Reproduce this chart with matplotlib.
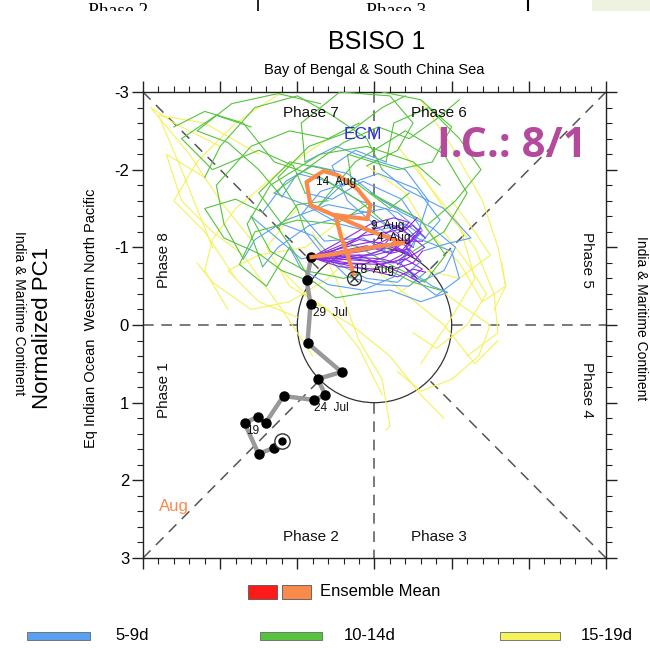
import matplotlib
matplotlib.use("Agg")
import matplotlib.pyplot as plt
from matplotlib.patches import Circle, Rectangle
import numpy as np

plt.rcParams['font.family'] = ['Liberation Sans', 'DejaVu Sans']

# ---------------- data (PC2 on x, PC1 on y) ----------------
obs_x = [-1.205, -1.308, -1.503, -1.684, -1.516, -1.412, -1.179, -0.790, -0.635, -0.738, -0.427, -0.868, -0.829, -0.881, -0.82]
obs_y = [1.493, 1.583, 1.660, 1.261, 1.184, 1.261, 0.914, 0.965, 0.901, 0.695, 0.605, 0.232, -0.270, -0.579, -0.87]
obs_labels = ["19", "24  Jul", "29  Jul"]
obs_label_xy = [(-1.66, 1.37), (-0.79, 1.07), (-0.80, -0.16)]

ens_x = [-0.816, -0.518, -0.233, 0.078, 0.376, -0.052, -0.440, -0.829, -0.881, -0.661, -0.479, -0.220,
         -0.052, -0.091, -0.311, -0.505, -0.440, -0.350, -0.272]
ens_y = [-0.875, -0.914, -0.965, -1.017, -1.055, -1.210, -1.377, -1.544, -1.840, -1.982, -1.931, -1.750,
         -1.544, -1.364, -1.390, -1.416, -1.158, -0.901, -0.656]
ens_labels = ["4  Aug", "9  Aug", "14  Aug", "18  Aug"]
ens_label_xy = [(0.035, -1.116), (-0.05, -1.274), (-0.764, -1.845), (-0.27, -0.708)]

IC = (-0.82, -0.87)
# member tracks by lead time (0-4d purple, 5-9d blue, 10-14d green, 15-19d yellow)
purple_tracks = [
    [IC, (-0.5, -0.92), (-0.1, -0.98), (0.2, -1.12), (0.45, -1.05), (0.6, -1.2)],
    [IC, (-0.45, -0.85), (-0.05, -0.82), (0.25, -0.72), (0.5, -0.8), (0.62, -0.95)],
    [IC, (-0.4, -1.0), (-0.1, -1.2), (0.2, -1.3), (0.4, -1.22), (0.55, -1.38)],
    [IC, (-0.4, -0.78), (-0.05, -0.7), (0.3, -0.62), (0.5, -0.72), (0.66, -0.68)],
    [IC, (-0.55, -0.95), (-0.2, -1.1), (0.1, -1.05), (0.35, -0.95), (0.52, -1.15)],
    [IC, (-0.45, -0.9), (0.0, -0.9), (0.3, -0.98), (0.5, -0.88), (0.4, -1.02)],
    [IC, (-0.5, -0.8), (-0.15, -0.78), (0.15, -0.88), (0.35, -1.08), (0.62, -1.08)],
    [IC, (-0.4, -1.1), (-0.05, -1.3), (0.25, -1.38), (0.45, -1.32), (0.3, -1.18)],
    [IC, (-0.35, -0.88), (0.1, -0.85), (0.35, -0.78), (0.55, -0.6), (0.42, -0.72)],
    [IC, (-0.5, -0.9), (-0.15, -0.95), (0.1, -1.0), (0.25, -1.18), (0.48, -1.02)],
    [IC, (-0.45, -0.75), (0.0, -0.72), (0.35, -0.9), (0.6, -1.25), (0.2, -0.92)],
    [IC, (-0.4, -1.0), (0.0, -1.08), (0.3, -1.28), (0.65, -1.0), (0.3, -0.78)],
    [IC, (-0.5, -0.85), (-0.2, -0.9), (0.15, -0.75), (0.4, -0.65), (0.58, -0.55)],
    [IC, (-0.45, -0.95), (-0.1, -1.02), (0.2, -0.92), (0.45, -0.98), (0.6, -0.82)],
    [IC, (-0.6, -0.82), (-0.25, -0.86), (0.05, -0.95), (0.3, -1.1), (0.5, -1.0)],
    [IC, (-0.35, -0.8), (0.05, -0.78), (0.4, -0.85), (0.62, -0.72), (0.48, -0.62)],
    [IC, (-0.5, -1.0), (-0.15, -1.15), (0.2, -1.2), (0.5, -1.28), (0.66, -1.12)],
    [IC, (-0.45, -0.88), (-0.1, -0.83), (0.25, -0.8), (0.45, -0.92), (0.25, -1.02)],
]
blue_tracks = [
    [(0.6, -1.2), (0.3, -1.45), (-0.2, -1.6), (-0.6, -1.85), (-1.0, -1.95), (-1.2, -1.65)],
    [(0.62, -0.95), (0.95, -1.05), (1.25, -1.12), (0.9, -1.5), (0.4, -1.75), (0.1, -2.0)],
    [(0.55, -1.38), (0.1, -1.6), (-0.35, -1.95), (-0.8, -2.05), (-1.15, -1.85), (-1.45, -1.45)],
    [(0.66, -0.68), (0.45, -0.5), (0.05, -0.52), (-0.35, -0.62), (-0.7, -0.95), (-0.9, -1.2)],
    [(0.52, -1.15), (0.15, -1.5), (-0.3, -1.42), (-0.85, -1.28), (-1.25, -1.0), (-1.45, -0.75)],
    [(0.4, -1.02), (0.05, -1.25), (-0.35, -1.6), (-0.55, -2.05), (-0.25, -2.25), (0.15, -2.1)],
    [(0.62, -1.08), (0.85, -1.35), (0.55, -1.75), (0.05, -1.95), (-0.45, -1.78), (-0.75, -1.5)],
    [(0.3, -1.18), (-0.1, -1.45), (-0.6, -1.55), (-1.15, -1.35), (-1.55, -1.1), (-1.7, -0.85)],
    [(0.42, -0.72), (0.75, -0.5), (0.95, -0.42), (0.6, -0.3), (0.2, -0.45), (-0.2, -0.4)],
    [(0.48, -1.02), (0.25, -0.62), (-0.15, -0.45), (-0.6, -0.52), (-0.95, -0.72), (-1.1, -1.0)],
    [(0.2, -0.92), (-0.15, -1.12), (-0.65, -1.08), (-0.95, -1.42), (-0.7, -1.72), (-0.3, -1.85)],
    [(0.3, -0.78), (0.62, -1.22), (0.35, -1.62), (-0.15, -1.85), (-0.55, -1.62), (-0.9, -1.7)],
    [(0.58, -0.55), (0.9, -0.7), (1.05, -1.0), (0.75, -1.25), (0.35, -1.45), (-0.05, -1.7)],
    [(0.6, -0.82), (0.3, -0.55), (-0.1, -0.6), (-0.5, -0.8), (-0.8, -1.15), (-1.2, -1.3)],
    [(0.5, -1.0), (0.7, -1.6), (0.4, -2.0), (-0.1, -2.15), (-0.5, -2.3), (-0.9, -2.1)],
    [(0.48, -0.62), (0.8, -0.38), (1.1, -0.6), (1.0, -0.95), (0.6, -1.1), (0.15, -1.3)],
    [(0.66, -1.12), (0.4, -1.3), (-0.05, -1.2), (-0.45, -1.3), (-0.9, -1.55), (-1.3, -1.7)],
    [(0.25, -1.02), (-0.2, -0.85), (-0.55, -0.95), (-0.95, -0.85), (-1.3, -1.15), (-1.6, -1.4)],
]
green_tracks = [
    [(-1.2, -1.65), (-1.5, -2.0), (-1.9, -2.35), (-2.3, -2.5), (-1.85, -2.85), (-1.25, -2.98), (-0.7, -2.85)],
    [(0.1, -2.0), (-0.1, -2.4), (-0.55, -2.7), (-1.0, -2.95), (-1.55, -2.8), (-2.0, -2.3), (-2.2, -1.9)],
    [(-1.45, -1.45), (-1.8, -1.62), (-2.2, -1.5), (-1.95, -1.12), (-1.5, -0.92), (-1.2, -0.7), (-0.8, -0.55)],
    [(-0.9, -1.2), (-1.0, -1.5), (-1.25, -1.9), (-0.85, -2.3), (-0.3, -2.5), (0.1, -2.8), (0.4, -2.95)],
    [(-1.45, -0.75), (-1.65, -1.3), (-1.35, -1.8), (-0.7, -2.2), (-0.1, -2.3), (0.5, -2.1), (0.85, -1.8)],
    [(0.15, -2.1), (0.25, -2.6), (0.7, -2.8), (1.1, -2.4), (1.38, -2.0), (1.05, -1.6), (0.7, -1.3)],
    [(-0.75, -1.5), (-0.25, -2.1), (0.4, -2.5), (0.9, -2.2), (1.2, -1.7), (0.9, -1.2), (0.5, -0.95)],
    [(-1.7, -0.85), (-1.95, -1.3), (-2.05, -1.8), (-1.6, -2.3), (-1.1, -2.5), (-0.6, -2.4), (-0.2, -2.6)],
    [(-0.2, -0.4), (-0.5, -0.35), (-0.85, -0.6), (-1.05, -0.95), (-1.25, -1.25), (-1.0, -1.55), (-0.6, -1.6)],
    [(-1.1, -1.0), (-1.4, -0.5), (-1.75, -0.78), (-1.55, -1.2), (-1.0, -1.35), (-0.5, -1.3), (-0.1, -1.55)],
    [(-0.3, -1.85), (-0.35, -2.2), (0.3, -2.0), (0.75, -2.1), (1.0, -2.55), (0.6, -2.9), (0.1, -3.0)],
    [(-0.9, -1.7), (-1.05, -2.05), (-1.5, -2.25), (-2.1, -2.0), (-2.5, -2.4), (-2.05, -2.7), (-1.6, -2.55)],
    [(-0.05, -1.7), (0.6, -1.35), (0.92, -0.9), (0.65, -0.55), (0.2, -0.78), (-0.2, -1.0), (-0.6, -1.15)],
    [(-0.9, -2.1), (-0.95, -2.6), (-0.45, -3.0), (0.2, -2.95), (0.5, -2.6), (0.3, -2.25), (-0.1, -2.05)],
    [(-1.2, -1.3), (-1.5, -1.7), (-1.1, -2.1), (-0.6, -2.0), (-0.2, -1.8), (0.2, -1.5), (0.45, -1.7)],
    [(0.15, -1.3), (-0.2, -1.6), (-0.7, -1.9), (-1.3, -2.1), (-1.7, -2.6), (-2.2, -2.75), (-2.6, -2.55)],
    [(-1.3, -1.7), (-0.9, -2.0), (-0.4, -2.35), (0.05, -2.55), (0.45, -2.4), (0.8, -2.65), (1.1, -2.9)],
    [(-1.6, -1.4), (-1.35, -0.95), (-0.9, -0.7), (-0.4, -0.6), (0.1, -0.75), (0.5, -0.55), (0.85, -0.45)],
]
yellow_tracks = [
    [(-1.2, -3.0), (-1.8, -2.6), (-2.3, -2.1), (-2.6, -1.6), (-2.2, -1.2), (-1.8, -0.6)],
    [(-2.0, -2.3), (-2.6, -2.6), (-2.9, -2.8), (-2.4, -2.2), (-2.0, -1.6), (-1.6, -1.1)],
    [(-1.2, -0.7), (-0.8, -0.3), (-0.3, 0.0), (0.2, 0.4), (0.6, 0.9), (0.9, 1.2)],
    [(-0.5, -1.3), (-0.1, -0.8), (0.4, -0.4), (0.9, 0.0), (1.3, 0.5), (1.6, 0.2)],
    [(0.6, -2.9), (1.0, -2.3), (1.4, -1.6), (1.6, -1.0), (1.7, -0.5), (1.55, -0.2)],
    [(0.9, -1.2), (1.2, -0.8), (1.45, -0.4), (1.2, 0.0), (0.8, 0.3), (0.5, 0.1)],
    [(-0.2, -1.0), (-0.6, -0.6), (-1.1, -0.3), (-1.6, -0.2), (-2.1, -0.55), (-2.3, -0.8)],
    [(-0.6, -2.4), (-1.2, -2.0), (-1.8, -1.5), (-2.1, -1.1), (-2.2, -0.7), (-1.9, -0.2)],
    [(1.0, -1.6), (1.3, -1.2), (1.5, -0.9), (1.1, -0.6), (0.7, -0.7), (0.3, -0.4)],
    [(0.3, -2.3), (0.7, -1.8), (1.1, -1.3), (1.3, -0.6), (1.0, -0.1), (0.6, 0.5)],
    [(-1.0, -1.5), (-1.4, -1.0), (-1.1, -0.5), (-0.6, -0.2), (-0.2, 0.3), (0.1, 0.9)],
    [(0.5, -2.1), (0.9, -1.5), (1.3, -1.0), (1.55, -0.4), (1.6, 0.1), (1.2, 0.4)],
    [(-0.5, -1.3), (-0.9, -1.0), (-1.5, -0.9), (-1.9, -0.7), (-1.5, -0.3), (-1.0, -0.1)],
    [(-1.5, -2.2), (-2.2, -2.6), (-2.8, -2.7), (-2.5, -2.0), (-2.3, -1.5), (-2.1, -1.0)],
    [(-0.8, -1.2), (-0.5, -0.6), (-0.2, 0.2), (0.1, 0.7), (0.2, 1.3), (0.15, 1.35)],
    [(-2.2, -1.9), (-2.7, -2.2), (-2.5, -1.6), (-2.1, -1.2), (-1.7, -0.9), (-1.2, -0.2), (-0.8, 0.4)],
    [(0.85, -0.45), (1.2, -0.2), (1.5, 0.0), (1.35, 0.4), (1.0, 0.7), (0.6, 0.85), (0.3, 0.6)],
    [(-0.1, -2.05), (0.4, -1.7), (0.7, -1.2), (1.1, -0.8), (1.4, -0.3), (1.7, -0.5), (1.65, -0.8)],
]

phase_names = ["Phase 1", "Phase 2", "Phase 3", "Phase 4", "Phase 5", "Phase 6", "Phase 7", "Phase 8"]
legend_lead = ["5-9d", "10-14d", "15-19d"]
yticks = [-3, -2, -1, 0, 1, 2, 3]

C_PURPLE = '#8a2be2'
C_BLUE = '#5aa0f0'
C_GREEN = '#55c43c'
C_YELLOW = '#f5f25a'
C_ORANGE = '#fa8a4c'
C_RED = '#ff1a1a'

# ---------------- figure ----------------
W, H = 650, 649
fig = plt.figure(figsize=(W / 100, H / 100), dpi=100)

def fx(px):
    return px / W

def fy(py):
    return 1 - py / H

ax = fig.add_axes([fx(143), fy(558), (606 - 143) / W, (558 - 92) / H])
ax.set_xlim(-3, 3)
ax.set_ylim(3, -3)

# reference lines
dash = dict(color='#555555', lw=1.1, dashes=(7, 5), zorder=1)
r = 1 / np.sqrt(2)
for sx, sy in [(-1, -1), (1, -1), (-1, 1), (1, 1)]:
    ax.plot([3 * sx, r * sx], [3 * sy, r * sy], **dash)
ax.plot([-3, -1], [0, 0], **dash)
ax.plot([1, 3], [0, 0], **dash)
ax.plot([0, 0], [-3, -1], **dash)
ax.plot([0, 0], [1, 3], **dash)
ax.add_patch(Circle((0, 0), 1, fill=False, ec='#333333', lw=0.9, zorder=1))

# spaghetti
for tracks, col, z in [(yellow_tracks, C_YELLOW, 2), (blue_tracks, C_BLUE, 3),
                       (green_tracks, C_GREEN, 4), (purple_tracks, C_PURPLE, 5)]:
    for t in tracks:
        xs, ys = zip(*t)
        ax.plot(xs, ys, color=col, lw=0.8, zorder=z)

# observation
ax.plot(obs_x, obs_y, color='#999999', lw=3.2, zorder=6, solid_capstyle='round')
ax.plot(obs_x, obs_y, ls='none', marker='o', ms=6.5, color='black', zorder=7)
ax.plot([obs_x[0]], [obs_y[0]], ls='none', marker='o', ms=11, mfc='white', mec='#333333', mew=1.0, zorder=7)
ax.plot([obs_x[0]], [obs_y[0]], ls='none', marker='o', ms=5, color='black', zorder=8)
for s, (x, y) in zip(obs_labels, obs_label_xy):
    ax.text(x, y, s, fontsize=8.5, ha='left', va='center', color='#111111', zorder=9)

# ensemble mean
ax.plot(ens_x, ens_y, color=C_ORANGE, lw=3.0, zorder=8, solid_joinstyle='round')
ax.plot([ens_x[-1]], [ens_y[-1] + 0.05], ls='none', marker='o', ms=10, mfc='none', mec='#333333', mew=1.0, zorder=9)
ax.plot([ens_x[-1]], [ens_y[-1] + 0.05], ls='none', marker='x', ms=6, mec='#333333', mew=1.0, zorder=9)
for s, (x, y) in zip(ens_labels, ens_label_xy):
    ax.text(x, y, s, fontsize=8.5, ha='left', va='center', color='#111111', zorder=10)

# phase labels
pk = dict(fontsize=11, color='#111111', ha='center', va='center', zorder=10)
ax.text(-0.82, -2.73, phase_names[6], **pk)
ax.text(0.84, -2.73, phase_names[5], **pk)
ax.text(-2.73, -0.84, phase_names[7], rotation=90, **pk)
ax.text(-2.73, 0.84, phase_names[0], rotation=90, **pk)
ax.text(2.75, -0.84, phase_names[4], rotation=-90, **pk)
ax.text(2.75, 0.84, phase_names[3], rotation=-90, **pk)
ax.text(-0.82, 2.73, phase_names[1], **pk)
ax.text(0.84, 2.73, phase_names[2], **pk)

ax.text(-0.15, -2.45, "ECM", fontsize=12.5, color='#2b2be0', ha='center', va='center', zorder=10)
ax.text(-2.60, 2.34, "Aug", fontsize=12, color=C_ORANGE, ha='center', va='center', zorder=10)
ax.text(1.78, -2.3, "I.C.: 8/1", fontsize=30, color='#b54a9c', ha='center', va='center',
        family='Open Sans', fontweight='bold', zorder=10)

# axes styling
ax.set_yticks(yticks)
ax.set_yticklabels([str(v) for v in yticks], fontsize=12)
ax.set_yticks(np.arange(-3, 3.01, 0.2), minor=True)
ax.set_xticks(yticks)
ax.set_xticks(np.arange(-3, 3.01, 0.2), minor=True)
ax.tick_params(which='both', direction='out', top=True, right=True, labelbottom=False, color='#222222')
ax.tick_params(which='major', length=8, width=1.0)
ax.tick_params(which='minor', length=4, width=0.8)
ax.tick_params(axis='y', which='major', pad=2)
for sp in ax.spines.values():
    sp.set_linewidth(1.0)
    sp.set_color('#222222')

# titles
fig.text(fx(377), fy(42), "BSISO 1", fontsize=18, ha='center', va='center')
fig.text(fx(374), fy(70), "Bay of Bengal & South China Sea", fontsize=10.5, ha='center', va='center')
fig.text(fx(43), fy(328), "Normalized PC1", fontsize=16, rotation=90, ha='center', va='center')
fig.text(fx(91), fy(318), "Eq Indian Ocean  Western North Pacific", fontsize=10.5, rotation=90, ha='center', va='center')
fig.text(fx(19), fy(313), "India & Maritime Continent", fontsize=10, rotation=-90, ha='center', va='center')
fig.text(fx(641), fy(318), "India & Maritime Continent", fontsize=10, rotation=-90, ha='center', va='center')

# legend
fig.add_artist(Rectangle((fx(248), fy(599)), 29 / W, 14 / H, transform=fig.transFigure,
                         fc=C_RED, ec='#555555', lw=0.6))
fig.add_artist(Rectangle((fx(282), fy(599)), 29 / W, 14 / H, transform=fig.transFigure,
                         fc=C_ORANGE, ec='#555555', lw=0.6))
fig.text(fx(320), fy(592), "Ensemble Mean", fontsize=12, ha='left', va='center')

for (x0, x1, tx), col, lab in zip([(27, 90, 115), (260, 322, 344), (500, 560, 581)],
                                  [C_BLUE, C_GREEN, C_YELLOW], legend_lead):
    fig.add_artist(Rectangle((fx(x0), fy(640)), (x1 - x0) / W, 8 / H, transform=fig.transFigure,
                             fc=col, ec='#666666', lw=0.6))
    fig.text(fx(tx), fy(636), lab, fontsize=12, ha='left', va='center')

# cut-off strip of the previous panel at the very top
strip = fig.add_axes([0, fy(11), 1, 11 / H])
strip.set_xlim(0, W)
strip.set_ylim(11, 0)
strip.axis('off')
strip.add_patch(Rectangle((592, 0), 58, 11, fc='#eef3df', ec='none'))
strip.plot([258, 258], [0, 11], color='black', lw=1.2)
strip.plot([528, 528], [0, 11], color='black', lw=1.5)
strip.text(118, 3, "Phase 2", fontsize=14, family='Liberation Serif', ha='center', va='top', clip_on=True)
strip.text(396, 3, "Phase 3", fontsize=14, family='Liberation Serif', ha='center', va='top', clip_on=True)

fig.savefig("out.png", dpi=100)
